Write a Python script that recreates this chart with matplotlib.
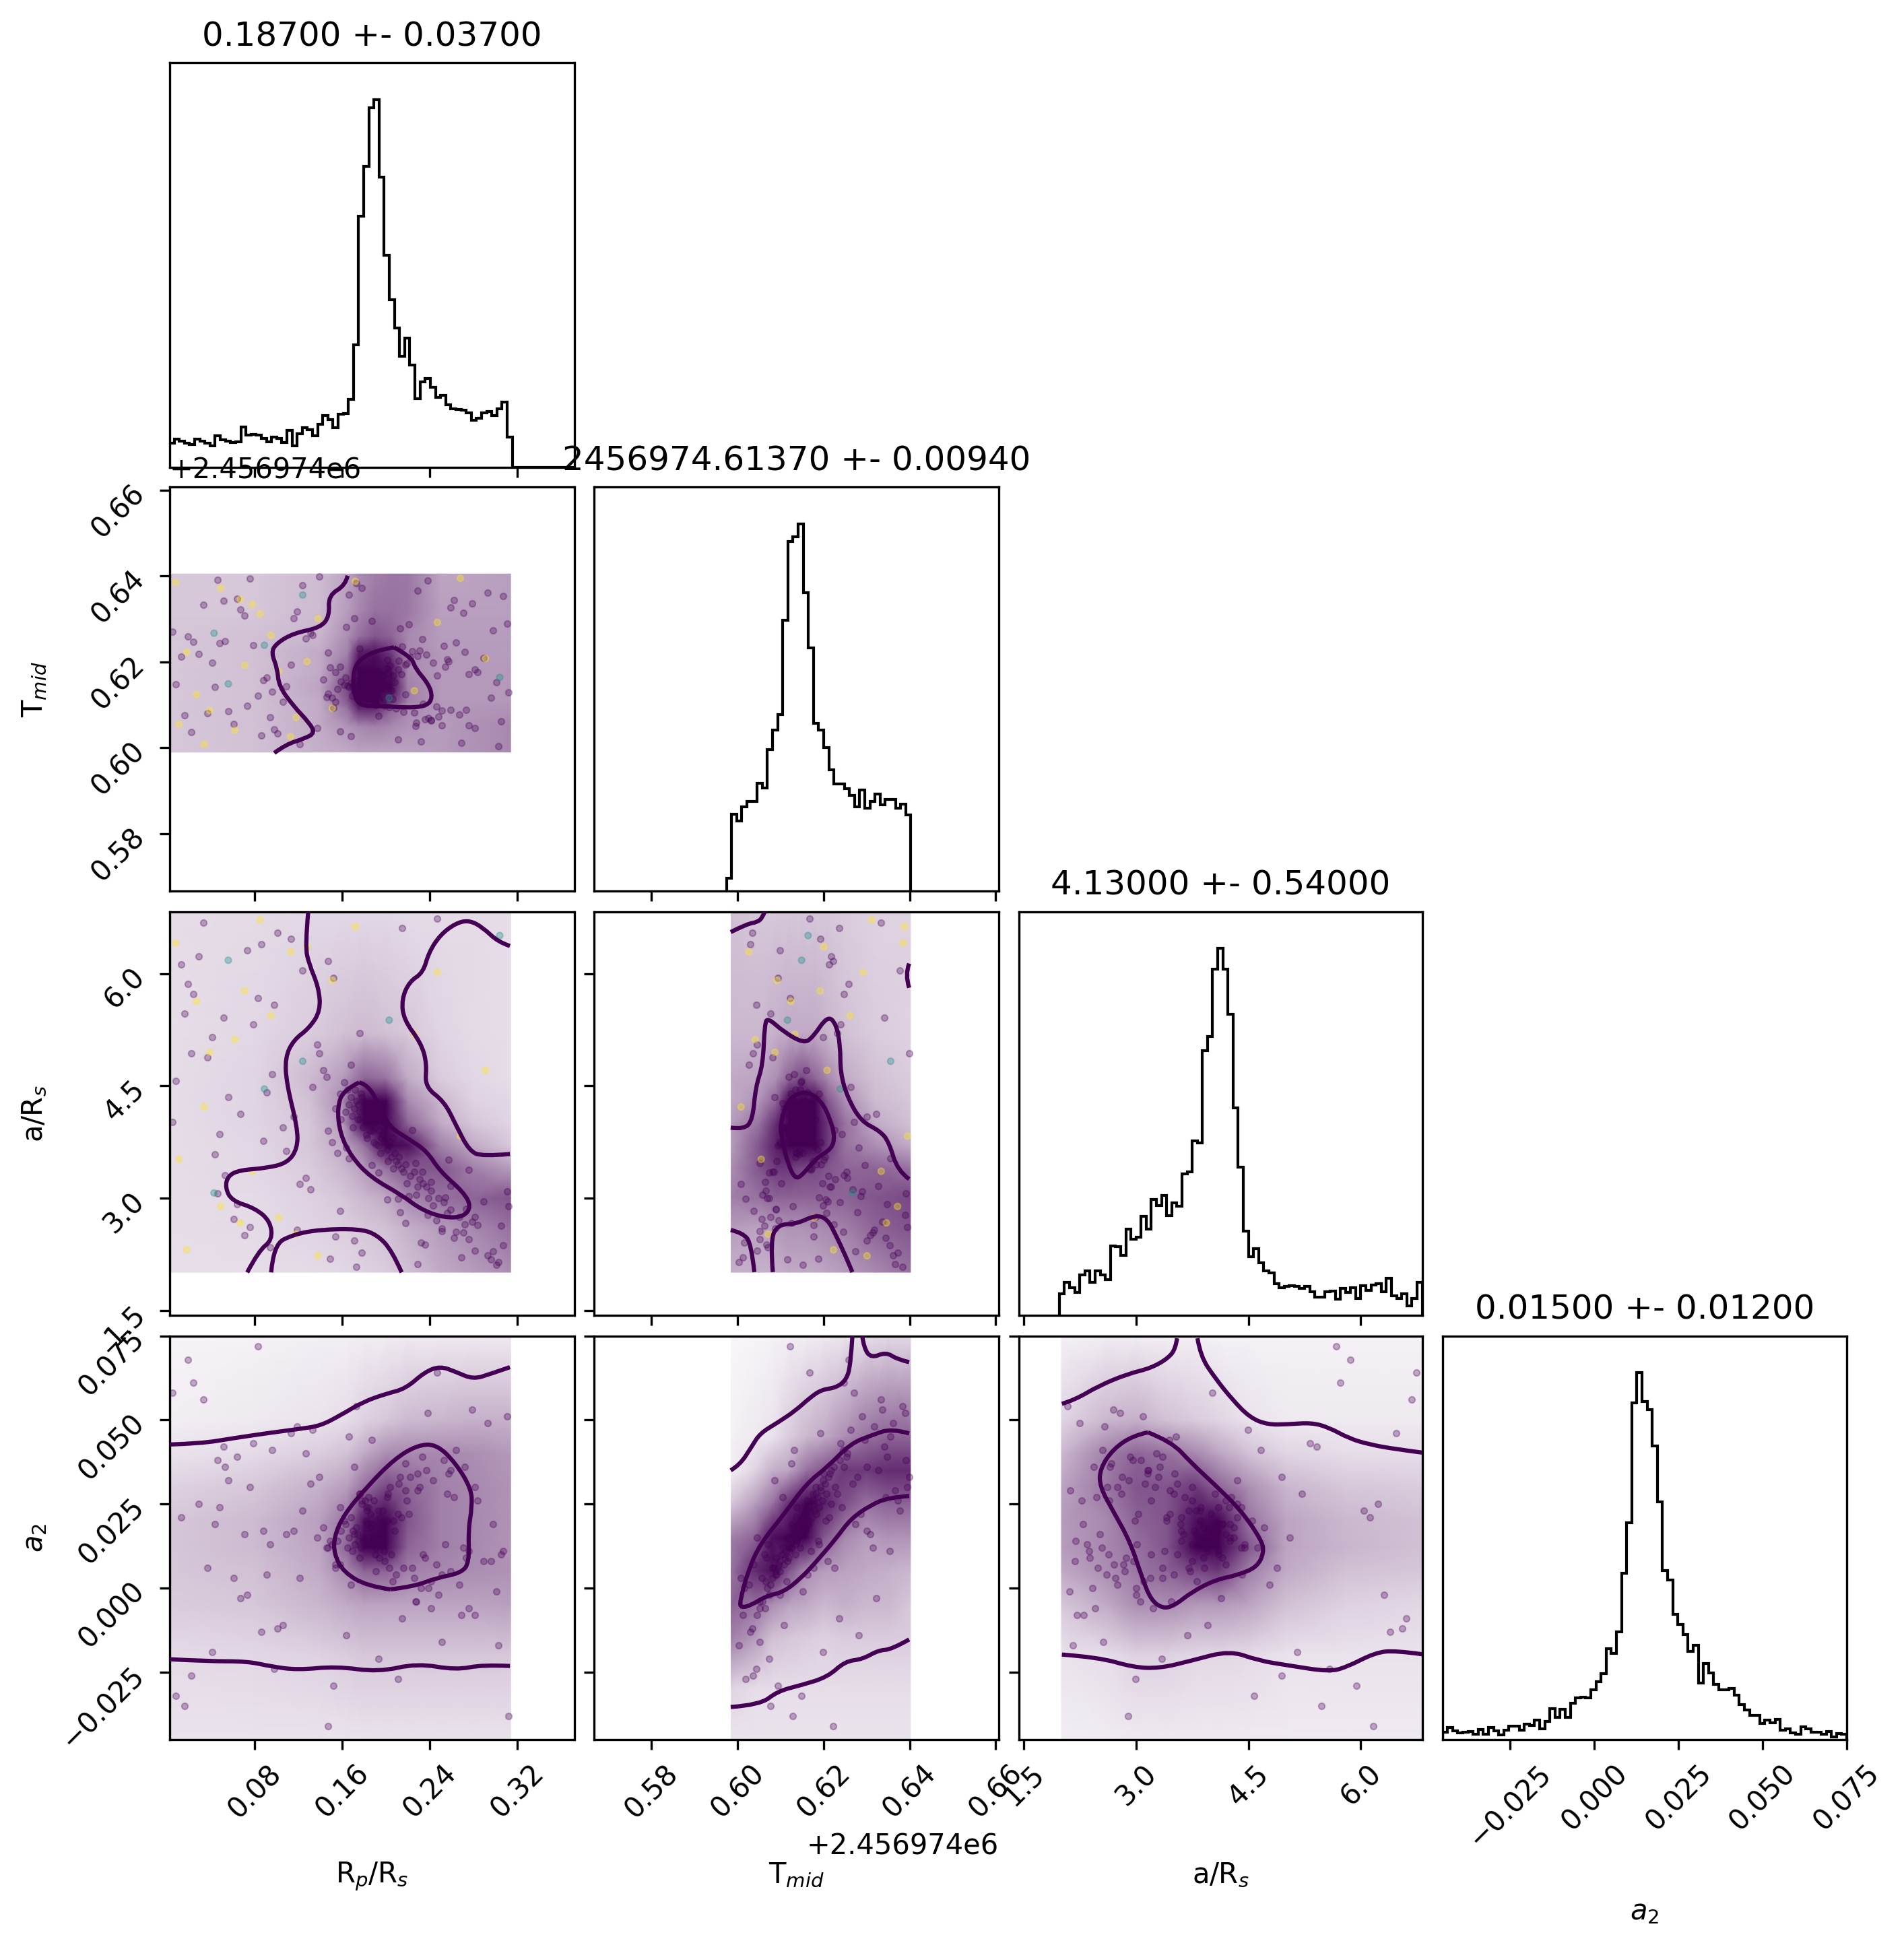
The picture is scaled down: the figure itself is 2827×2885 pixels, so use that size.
import numpy as np
import matplotlib
matplotlib.use('Agg')
import matplotlib.pyplot as plt
from matplotlib.colors import LinearSegmentedColormap
from matplotlib.patches import PathPatch
from matplotlib.path import Path
from matplotlib.ticker import ScalarFormatter

T_OFF = 2456974.0
PURPLE = '#440154'

titles = ['0.18700 +- 0.03700', '2456974.61370 +- 0.00940', '4.13000 +- 0.54000', '0.01500 +- 0.01200']
labels = [r'R$_p$/R$_s$', r'T$_{mid}$', r'a/R$_s$', r'$a_2$']

rp_ticks = [0.08, 0.16, 0.24, 0.32]
t_ticks = [0.58, 0.60, 0.62, 0.64, 0.66]
ars_ticks = [1.5, 3.0, 4.5, 6.0]
a2_ticks = [-0.025, 0.0, 0.025, 0.05, 0.075]

# histogram heights, left to right
rp_hist = [84, 96, 90, 84, 78, 96, 90, 84, 74, 109, 94, 90, 86, 88, 138, 110, 114, 110, 100, 88,
           104, 100, 86, 126, 74, 116, 137, 130, 109, 148, 179, 164, 136, 182, 184, 234, 420, 862, 1032, 1234,
           1262, 996, 727, 574, 477, 382, 444, 350, 236, 294, 304, 276, 240, 246, 214, 202, 198, 196, 186, 162,
           168, 188, 192, 178, 200, 224, 104, 0, 0, 0, 0, 0, 0, 0, 0, 0, 0, 0, 0, 0]
t_hist = [44, 262, 240, 288, 306, 306, 370, 354, 484, 552, 606, 928, 1200, 1216, 1260, 1024, 834, 576,
          552, 492, 416, 368, 366, 350, 328, 288, 346, 284, 308, 332, 296, 314, 314, 284, 298, 260]
ars_hist = [78, 122, 100, 84, 148, 162, 122, 162, 148, 130, 254, 250, 220, 314, 278, 286, 362, 316, 422, 400,
            438, 364, 410, 398, 516, 524, 636, 628, 966, 1016, 1262, 1338, 1262, 1098, 758, 540, 308, 214, 244, 192,
            162, 154, 116, 100, 106, 108, 106, 98, 106, 86, 68, 68, 86, 90, 60, 98, 84, 100, 62, 108,
            92, 110, 116, 86, 136, 72, 62, 80, 36, 62, 120]
a2_hist = [18, 29, 20, 16, 17, 19, 13, 24, 13, 29, 20, 11, 22, 32, 32, 22, 36, 33, 47, 25,
           43, 74, 53, 72, 52, 86, 99, 101, 99, 118, 138, 156, 216, 204, 256, 395, 515, 800, 871, 803,
           784, 697, 564, 402, 379, 298, 274, 250, 210, 223, 134, 180, 158, 131, 118, 118, 121, 106, 83, 70,
           58, 58, 38, 47, 40, 48, 22, 25, 16, 12, 31, 25, 18, 17, 13, 19, 7, 15, 12]

rp_edges = (0.0019, 0.3763)
t_edges = (0.5974, 0.6403)
ars_edges = (1.972, 6.82)
a2_edges = (-0.0451, 0.075)

# The clouds hold thousands of points that cannot be read one by one, so each
# is approximated by a hand-estimated darkness table plus a sample of points.
rp_grid = [0.002, 0.08, 0.14, 0.165, 0.175, 0.19, 0.205, 0.22, 0.25, 0.314]
rp_grid2 = [0.002, 0.08, 0.13, 0.16, 0.18, 0.2, 0.22, 0.25, 0.28, 0.314]
rp_grid3 = [0.002, 0.08, 0.14, 0.165, 0.18, 0.2, 0.22, 0.25, 0.28, 0.314]
t_grid = [0.599, 0.605, 0.609, 0.611, 0.614, 0.618, 0.622, 0.626, 0.632, 0.6405]
t_grid2 = [0.5985, 0.605, 0.609, 0.612, 0.615, 0.618, 0.621, 0.625, 0.632, 0.6402]
t_grid3 = [0.5985, 0.604, 0.608, 0.612, 0.616, 0.62, 0.625, 0.63, 0.635, 0.6402]
ars_grid = [2.01, 2.6, 3.0, 3.4, 3.7, 4.0, 4.3, 4.6, 5.2, 6.83]
ars_grid2 = [2.0, 2.6, 3.0, 3.4, 3.8, 4.1, 4.5, 5.0, 5.8, 6.83]
a2_grid = [-0.045, -0.02, -0.005, 0.005, 0.012, 0.02, 0.03, 0.04, 0.05, 0.075]
a2_grid2 = [-0.045, -0.03, -0.015, -0.005, 0.005, 0.015, 0.025, 0.035, 0.045, 0.075]

t_rp_shade = [[.2, .22, .28, .3, .32, .32, .32, .33, .35, .42],
              [.2, .22, .3, .38, .42, .45, .42, .38, .35, .42],
              [.2, .22, .3, .5, .75, .75, .55, .42, .36, .38],
              [.2, .22, .3, .6, 1, 1, .75, .45, .36, .36],
              [.2, .22, .32, .65, 1, 1, .9, .45, .36, .36],
              [.2, .22, .3, .55, 1, 1, .85, .42, .36, .36],
              [.2, .22, .3, .45, .8, .85, .7, .42, .36, .35],
              [.2, .22, .26, .4, .5, .6, .55, .42, .35, .35],
              [.2, .2, .24, .35, .42, .5, .5, .48, .34, .34],
              [.2, .2, .24, .32, .4, .45, .48, .48, .32, .34]]
ars_rp_shade = [[.12, .12, .13, .14, .16, .18, .22, .3, .35, .4],
                [.12, .13, .15, .17, .2, .22, .28, .35, .42, .5],
                [.12, .13, .16, .2, .25, .3, .42, .5, .55, .6],
                [.12, .14, .18, .25, .35, .5, .6, .6, .45, .35],
                [.12, .14, .2, .3, .5, .9, .85, .45, .3, .2],
                [.12, .15, .2, .35, .95, 1, .55, .3, .2, .15],
                [.12, .15, .22, .4, 1, .9, .42, .25, .16, .14],
                [.12, .15, .24, .35, .55, .5, .3, .18, .14, .12],
                [.12, .14, .18, .22, .24, .22, .2, .15, .13, .12],
                [.12, .13, .14, .14, .14, .14, .13, .13, .13, .12]]
ars_t_shade = [[.28, .28, .28, .3, .3, .3, .32, .35, .42, .5],
               [.35, .32, .35, .38, .38, .4, .42, .45, .55, .6],
               [.45, .5, .55, .55, .55, .55, .55, .55, .6, .65],
               [.4, .6, .7, .7, .65, .65, .6, .55, .55, .5],
               [.35, .6, .8, .95, .95, .9, .7, .5, .4, .3],
               [.35, .5, .75, 1, 1, 1, .7, .5, .3, .22],
               [.3, .38, .55, .95, 1, .95, .6, .4, .24, .2],
               [.3, .32, .4, .55, .65, .55, .42, .3, .22, .18],
               [.25, .25, .28, .3, .3, .3, .26, .22, .18, .16],
               [.22, .2, .2, .2, .2, .2, .2, .18, .16, .16]]
a2_rp_shade = [[.1, .1, .1, .1, .1, .1, .1, .1, .1, .1],
               [.13, .14, .16, .18, .2, .2, .2, .2, .2, .2],
               [.18, .2, .26, .3, .32, .32, .32, .32, .32, .34],
               [.2, .22, .3, .42, .55, .55, .45, .42, .4, .38],
               [.2, .24, .32, .55, .95, .9, .55, .45, .42, .38],
               [.2, .24, .34, .5, .85, 1, .6, .45, .42, .38],
               [.16, .2, .28, .35, .5, .65, .55, .45, .42, .38],
               [.1, .13, .18, .22, .3, .4, .42, .42, .4, .36],
               [.06, .08, .1, .12, .16, .2, .24, .26, .28, .28],
               [.04, .05, .06, .06, .07, .07, .08, .08, .08, .08]]
a2_t_shade = [[.1, .1, .1, .1, .1, .1, .1, .1, .1, .1],
              [.15, .12, .12, .12, .12, .12, .12, .12, .12, .12],
              [.45, .35, .22, .2, .18, .16, .18, .18, .18, .18],
              [.55, .5, .4, .32, .3, .25, .28, .25, .25, .2],
              [.5, .75, .85, .6, .4, .35, .32, .3, .28, .25],
              [.45, .55, .85, 1, .95, .6, .42, .35, .38, .38],
              [.2, .35, .5, .75, .9, .8, .62, .5, .55, .55],
              [.06, .15, .28, .32, .5, .6, .7, .7, .75, .75],
              [.05, .08, .1, .18, .25, .3, .4, .5, .55, .55],
              [.03, .04, .05, .06, .07, .08, .1, .12, .14, .14]]
a2_ars_shade = [[.06, .07, .08, .08, .08, .08, .08, .08, .08, .08],
                [.1, .12, .16, .16, .14, .14, .13, .1, .1, .1],
                [.2, .3, .4, .4, .36, .36, .32, .22, .16, .14],
                [.3, .4, .48, .55, .65, .7, .45, .3, .22, .2],
                [.35, .42, .5, .6, .95, 1, .6, .32, .26, .22],
                [.35, .42, .55, .6, .85, .95, .5, .32, .25, .22],
                [.32, .48, .6, .6, .7, .55, .4, .26, .2, .18],
                [.25, .45, .55, .5, .42, .32, .22, .15, .12, .12],
                [.15, .25, .28, .22, .18, .15, .1, .08, .08, .08],
                [.05, .07, .07, .06, .06, .05, .05, .05, .05, .05]]

# sample of points, same sample in every panel
rp_pts = [.013, .037, .052, .088, .101, .131, .146, .171, .193, .224,
          .238, .269, .284, .307, .024, .046, .073, .091, .119, .137,
          .164, .182, .211, .229, .257, .273, .298, .008, .033, .061,
          .079, .106, .124, .149, .168, .187, .218, .241, .262, .289,
          .303, .019, .044, .067, .094, .113, .139, .158, .176, .206,
          .221, .251, .276, .293, .312, .029, .056, .071, .098, .127,
          .143, .173, .191, .215, .232, .259, .281, .305, .005, .041,
          .064, .086, .109, .133, .152, .178, .201, .227, .247, .271,
          .296, .311, .016, .048, .076, .096, .121, .147, .166, .184,
          .213, .236, .254, .279, .301, .022, .053, .083, .116, .154,
          .171, .186, .194, .178, .203, .165, .212, .183, .197, .226,
          .158, .175, .191, .208, .237, .169, .181, .199, .218, .248,
          .162, .188, .176, .205, .231, .259, .173, .192, .214, .241,
          .154, .184, .196, .222, .267, .168, .179, .201, .234, .253,
          .147, .187, .193, .209, .243, .172, .182, .198, .228, .272,
          .159, .176, .189, .216, .256, .166, .185, .204, .239, .264,
          .151, .174, .195, .211, .246, .163, .177, .202, .233, .276,
          .156, .183, .19, .219, .251, .17, .18, .207, .229, .281]
t_pts = [.6213, .6081, .6342, .6157, .6034, .6268, .6119, .6301, .6074, .6225,
         .6389, .6012, .6176, .6354, .6247, .6391, .6098, .6163, .6317, .6046,
         .6282, .6137, .6019, .6366, .6201, .6089, .6274, .6148, .6333, .6056,
         .6239, .6108, .6378, .6187, .6027, .6296, .6125, .6064, .6344, .6209,
         .6003, .6259, .6142, .6322, .6071, .6193, .6399, .6038, .6231, .6114,
         .6287, .6052, .6171, .6361, .6129, .6218, .6086, .6308, .6043, .6255,
         .6159, .6383, .6099, .6236, .6015, .6327, .6182, .6062, .6271, .6198,
         .6348, .6029, .6144, .6263, .6093, .6372, .6205, .6051, .6168, .6314,
         .6116, .6289, .6076, .6243, .6395, .6131, .6008, .6222, .6356, .6104,
         .6279, .6067, .6189, .6337, .6152, .6036, .6248, .6122, .6301, .6177,
         .6132, .6158, .6111, .6176, .6094, .6145, .6203, .6127, .6169, .6082,
         .6189, .6138, .6105, .6152, .6217, .6121, .6163, .6098, .6194, .6073,
         .6147, .6116, .6181, .6134, .6227, .6089, .6156, .6124, .6172, .6065,
         .6108, .6166, .6139, .6211, .6077, .6151, .6129, .6186, .6102, .6238,
         .6126, .6143, .6178, .6091, .6199, .6135, .6161, .6113, .6058, .6224,
         .6154, .6119, .6171, .6084, .6206, .6141, .6128, .6192, .6069, .6245,
         .6117, .6149, .6136, .6183, .6096, .6164, .6123, .6175, .6253, .6052,
         .6137, .6159, .6107, .6197, .6087, .6144, .6131, .6168, .6214, .6046]
ars_pts = [6.12, 4.88, 5.41, 3.77, 6.55, 3.12, 4.62, 2.43, 3.34, 3.91,
           2.78, 2.21, 2.64, 2.37, 5.73, 3.06, 6.31, 4.41, 2.58, 5.05,
           3.68, 4.24, 2.99, 2.12, 3.51, 2.86, 2.29, 4.57, 6.68, 2.72,
           5.32, 3.95, 6.04, 2.19, 4.78, 3.44, 2.67, 3.22, 2.47, 2.96,
           2.15, 5.86, 3.59, 4.13, 2.34, 6.47, 4.94, 2.83, 5.21, 3.81,
           3.03, 2.56, 3.38, 2.24, 2.89, 6.23, 4.35, 2.51, 5.58, 3.27,
           4.71, 2.08, 3.72, 6.61, 2.41, 3.16, 2.75, 2.63, 4.02, 5.15,
           2.92, 6.39, 3.63, 4.49, 5.94, 2.27, 2.98, 3.47, 6.74, 2.54,
           2.18, 3.09, 5.47, 3.86, 2.61, 4.66, 3.19, 6.17, 3.53, 4.27,
           2.81, 2.38, 3.01, 2.69, 2.11, 4.94, 3.31, 5.67, 4.09, 2.49,
           4.2, 4.0, 3.9, 4.35, 3.7, 4.45, 3.55, 4.15, 3.85, 3.35,
           4.4, 4.25, 3.95, 3.6, 3.15, 4.1, 4.2, 3.75, 3.45, 3.0,
           4.55, 3.9, 4.05, 3.55, 3.25, 2.85, 4.3, 4.05, 3.4, 3.1,
           4.2, 4.1, 3.8, 3.3, 2.75, 4.35, 3.95, 3.65, 3.2, 2.95,
           3.9, 4.25, 3.7, 3.5, 2.9, 4.45, 3.85, 3.95, 3.05, 2.65,
           4.05, 4.15, 3.75, 3.35, 2.8, 4.25, 3.9, 3.75, 3.0, 2.55,
           3.75, 4.05, 3.6, 3.45, 2.7, 4.15, 4.4, 3.5, 3.35, 2.45,
           3.6, 3.8, 4.1, 3.2, 2.6, 3.95, 4.3, 3.4, 3.15, 2.3]
a2_pts = [.021, .006, .042, .017, -.012, .031, .012, .036, -.021, .006,
          .052, -.008, .026, .011, .061, .038, -.002, .004, .048, .015,
          -.014, .024, -.027, .029, .034, .009, .019, -.032, .056, .003,
          .043, -.011, .023, .014, .001, .044, .037, -.006, .027, .008,
          -.017, .068, .019, -.003, .013, .046, .033, .007, .028, .002,
          .022, -.016, .011, .049, -.038, .025, .032, .016, -.024, .040,
          .018, .054, .005, -.009, .000, .035, .030, .010, .058, -.019,
          .039, -.013, .016, .047, -.029, .026, .020, -.004, .064, .012,
          .008, .051, -.035, .024, .030, .041, .003, -.041, .045, .027,
          .033, .009, .013, .053, -.001, -.026, .036, .072, .017, .006,
          .016, .022, .009, .025, .006, .012, .031, .019, .023, .003,
          .024, .014, .012, .017, .035, .011, .026, .008, .029, -.002,
          .020, .015, .028, .010, .030, .005, .018, .013, .021, .002,
          .007, .024, .016, .033, .001, .021, .014, .027, .010, .038,
          .012, .019, .023, .004, .032, .013, .020, .011, -.004, .036,
          .017, .009, .026, .006, .028, .015, .018, .030, .000, .041,
          .013, .016, .021, .022, .007, .019, .012, .028, .039, -.006,
          .014, .023, .010, .026, .004, .017, .015, .020, .034, -.008]

# pale points only show in the upper panels
rp_pale = [.008, .027, .043, .062, .085, .102, .124, .151, .018, .034,
           .056, .078, .095, .118, .172, .203, .247, .291, .011, .049,
           .071, .089, .113, .138, .226, .268, .304, .039, .067, .128]
t_pale = [.6385, .6124, .6267, .6041, .6312, .6178, .6356, .6092, .6223, .6008,
          .6149, .6334, .6262, .6071, .6388, .6116, .6292, .6208, .6055, .6372,
          .6192, .6239, .6026, .6301, .6133, .6395, .6164, .6087, .6346, .6201]
ars_pale = [6.41, 5.63, 3.07, 5.12, 6.72, 2.74, 4.83, 5.91, 2.31, 4.22,
            6.18, 3.36, 5.44, 2.52, 6.63, 5.38, 6.02, 4.71, 3.52, 2.89,
            5.77, 4.46, 6.29, 2.23, 5.19, 3.83, 6.51, 4.95, 2.67, 6.36]
pale_level = [1, 1, .5, 1, 1, 1, .5, 1, 1, 1,
              .5, 1, 1, 1, 1, .5, 1, 1, 1, 1,
              1, .5, 1, 1, 1, 1, .5, 1, 1, 1]

# contour lines, one (x, y) pair per line
t_rp_lines = [
    ([.165, .1633, .1474, .1485, .1403, .1156, .0998, .0952, .1008, .1022, .1156, .1298, .1351, .1262, .1086, .098],
     [.6401, .6379, .6355, .6307, .628, .6267, .6243, .6222, .6185, .6144, .6097, .6059, .6035, .6022, .6008, .5988]),
    ([.2074, .2233, .2268, .2392, .2427, .2374, .218, .1968, .1756, .1703, .1703, .1792, .195, .2074],
     [.6234, .6212, .6185, .6148, .6117, .6097, .6093, .6098, .6097, .6131, .6185, .6212, .6229, .6234]),
]
ars_rp_lines = [
    ([.129, .1262, .1298, .1386, .1403, .1298, .1156, .1079, .1093, .1192, .1192, .1103, .0909, .0662, .0556, .0532, .0592, .0804, .0945, .0962, .0839, .0733],
     [6.824, 6.363, 6.129, 5.816, 5.504, 5.27, 5.113, 4.879, 4.527, 3.941, 3.668, 3.473, 3.402, 3.375, 3.297, 3.141, 2.965, 2.867, 2.691, 2.438, 2.301, 2.008]),
    ([.3133, .3027, .2886, .2762, .2639, .2497, .2392, .2339, .2215, .2144, .2162, .2321, .2374, .2356, .2533, .2639, .2762, .2886, .3133],
     [6.371, 6.422, 6.617, 6.715, 6.676, 6.52, 6.285, 6.012, 5.895, 5.66, 5.387, 5.074, 4.801, 4.488, 4.293, 3.98, 3.629, 3.559, 3.59]),
    ([.0952, .0973, .1156, .1403, .1756, .1915, .2056, .2144],
     [2.008, 2.379, 2.516, 2.582, 2.59, 2.516, 2.301, 2.008]),
    ([.1756, .1862, .2003, .2215, .2374, .2497, .2709, .278, .2709, .2533, .2321, .2144, .1862, .1686, .158, .1555, .1615, .1756],
     [4.547, 4.508, 3.98, 3.785, 3.629, 3.355, 3.082, 2.887, 2.75, 2.738, 2.848, 3.043, 3.277, 3.551, 3.863, 4.215, 4.449, 4.547]),
]
ars_t_lines = [
    ([.5984, .6022, .6046, .6058, .6063], [6.556, 6.666, 6.688, 6.751, 6.828]),
    ([.6399, .6389, .6399], [6.136, 5.989, 5.812]),
    ([.5984, .6015, .6035, .6042, .6059, .6063, .6071, .6107, .6154, .6175, .6209, .6229, .6239, .6239, .6256, .6287, .6331, .6352, .6372, .6399],
     [3.943, 3.918, 4.046, 4.488, 4.782, 5.334, 5.408, 5.224, 5.069, 5.15, 5.437, 5.334, 5.04, 4.672, 4.341, 4.028, 3.899, 3.752, 3.366, 3.255]),
    ([.61, .6103, .6117, .6134, .6151, .6182, .6219, .6226, .6216, .6195, .6154, .6107, .61],
     [3.936, 3.789, 3.458, 3.255, 3.311, 3.531, 3.66, 3.826, 4.046, 4.304, 4.451, 4.267, 3.936]),
    ([.5984, .6012, .6032, .6039], [2.575, 2.538, 2.391, 2.012]),
    ([.6082, .6076, .6093, .6137, .6182, .6209, .6229, .625, .6267],
     [2.012, 2.428, 2.648, 2.656, 2.777, 2.722, 2.501, 2.244, 2.012]),
]
a2_rp_lines = [
    ([.0027, .031, .0592, .0945, .1227, .1403, .158, .1792, .2003, .218, .2356, .2497, .2639, .2797, .2956, .3133],
     [.0427, .043, .0445, .0462, .0474, .0483, .0513, .0554, .0578, .0593, .0643, .066, .0643, .0621, .0637, .0657]),
    ([.0027, .038, .0733, .0945, .1192, .1545, .1933, .2286, .2639, .2886, .3133],
     [-.0212, -.0218, -.0218, -.0233, -.0244, -.0233, -.025, -.0224, -.0244, -.0228, -.0232]),
    ([.2039, .1827, .1615, .1527, .1527, .1615, .1827, .2074, .2286, .2462, .2639, .278, .2787, .2752, .2762, .2691, .2462, .225, .2039],
     [-.0004, .0006, .0047, .01, .0153, .0218, .0301, .0383, .0425, .0428, .0371, .0295, .0242, .0171, .0077, .0045, .003, .0004, -.0004]),
]
a2_t_lines = [
    ([.5984, .6005, .6032, .6052, .6093, .6134, .6168, .6195, .6229, .6253, .6263, .6267],
     [.035, .0366, .0419, .046, .0492, .0527, .0566, .059, .0596, .0619, .0666, .0749]),
    ([.629, .6294, .6311, .6345, .6372, .6399], [.0749, .0713, .0684, .0702, .068, .0672]),
    ([.6399, .6358, .6311, .6263, .6209, .6161, .6107, .6052, .6025, .6005, .6008, .6032, .6066, .6107, .6148, .6182, .6229, .6263, .6311, .6352, .6399],
     [.046, .0475, .0454, .043, .036, .0312, .0218, .013, .0053, -.0041, -.0059, -.0051, -.0024, -.0012, .003, .0077, .0147, .0206, .0248, .0269, .0274]),
    ([.5984, .6052, .6093, .6148, .6209, .625, .629, .6328, .6358, .6399],
     [-.0354, -.0348, -.0307, -.0289, -.0265, -.0218, -.0212, -.0185, -.0183, -.0153]),
]
a2_ars_lines = [
    ([2.006, 2.182, 2.494, 2.883, 3.195, 3.429, 3.526, 3.545], [.0548, .056, .0601, .0637, .0654, .0684, .0713, .0743]),
    ([3.818, 3.857, 4.052, 4.286, 4.519, 4.753, 5.026, 5.338, 5.571, 5.844, 6.117, 6.468, 6.818],
     [.0743, .069, .0625, .056, .0507, .0486, .0487, .0492, .0478, .0445, .0427, .0413, .0403]),
    ([3.156, 3.468, 3.74, 4.052, 4.403, 4.675, 4.706, 4.617, 4.364, 4.052, 3.74, 3.506, 3.351, 3.195, 3.078, 2.922, 2.688, 2.513, 2.513, 2.688, 2.961, 3.156],
     [.0463, .0436, .0371, .0307, .023, .0142, .0106, .0063, .0039, .0024, -.0012, -.0053, -.0061, -.0035, .003, .0136, .023, .0301, .0354, .0413, .0454, .0463]),
    ([2.006, 2.494, 2.961, 3.312, 3.74, 4.247, 4.636, 5.026, 5.571, 5.805, 6.195, 6.468, 6.818],
     [-.0198, -.0206, -.0236, -.0239, -.0216, -.0186, -.0216, -.023, -.0249, -.0236, -.0192, -.0186, -.0197]),
]


def draw_line(ax, x, y, x_off=0.0, y_off=0.0):
    # quadratic pieces through midpoints, so the contour comes out rounded
    pts = np.column_stack([np.asarray(x) + x_off, np.asarray(y) + y_off])
    if len(pts) < 3:
        verts, codes = pts, [Path.MOVETO, Path.LINETO]
    else:
        verts = [pts[0]]
        codes = [Path.MOVETO]
        for i in range(1, len(pts) - 1):
            end = pts[i + 1] if i == len(pts) - 2 else (pts[i] + pts[i + 1]) / 2
            verts += [pts[i], end]
            codes += [Path.CURVE3, Path.CURVE3]
    ax.add_patch(PathPatch(Path(verts, codes), fill=False, ec=PURPLE, lw=1.5, zorder=4))


def draw_panel(ax, grid_x, grid_y, shade, px, py, lines, x_off=0.0, y_off=0.0, pale=None):
    ax.pcolormesh(np.asarray(grid_x) + x_off, np.asarray(grid_y) + y_off, np.array(shade),
                  shading='gouraud', cmap=cloud_cmap, vmin=0, vmax=0.9, zorder=1)
    ax.scatter(np.asarray(px) + x_off, np.asarray(py) + y_off, s=5, c=PURPLE, alpha=0.3, lw=0.5, zorder=2)
    if pale is not None:
        ax.scatter(np.asarray(pale[0]) + x_off, np.asarray(pale[1]) + y_off, s=5, c=pale_level, cmap='viridis',
                   vmin=0, vmax=1, alpha=0.35, lw=0.5, zorder=2)
    for lx, ly in lines:
        draw_line(ax, lx, ly, x_off, y_off)


def draw_hist(ax, counts, edges, x_off=0.0):
    ax.stairs(counts, np.linspace(edges[0], edges[1], len(counts) + 1) + x_off, color='k', lw=1.0)
    ax.set_ylim(0, 1.1 * max(counts))
    ax.set_yticks([])


cloud_cmap = LinearSegmentedColormap.from_list('cloud', ['white', PURPLE])

W, H = 2828, 2885
fig = plt.figure(figsize=(W / 300, H / 300), dpi=300)
col_px = [(252, 852.5), (882.5, 1482.7), (1513, 2112.3), (2141.7, 2742)]
row_px = [(93, 694), (723.4, 1322.7), (1353.9, 1953.2), (1983.6, 2583)]
lims = [(0.0025, 0.372), (T_OFF + 0.5667, T_OFF + 0.6607), (1.433, 6.827), (-0.0451, 0.075)]
ticks = [rp_ticks, list(np.array(t_ticks) + T_OFF), ars_ticks, a2_ticks]

axes = {}
for r in range(4):
    for c in range(r + 1):
        l, rt = col_px[c]
        t, b = row_px[r]
        ax = fig.add_axes([l / W, 1 - b / H, (rt - l) / W, (b - t) / H])
        axes[r, c] = ax

draw_hist(axes[0, 0], rp_hist, rp_edges)
draw_hist(axes[1, 1], t_hist, t_edges, T_OFF)
draw_hist(axes[2, 2], ars_hist, ars_edges)
draw_hist(axes[3, 3], a2_hist, a2_edges)
for c in range(4):
    axes[c, c].set_title(titles[c], fontsize=12)

draw_panel(axes[1, 0], rp_grid, t_grid, t_rp_shade, rp_pts, t_pts, t_rp_lines, y_off=T_OFF, pale=(rp_pale, t_pale))
draw_panel(axes[2, 0], rp_grid2, ars_grid, ars_rp_shade, rp_pts, ars_pts, ars_rp_lines, pale=(rp_pale, ars_pale))
draw_panel(axes[2, 1], t_grid2, ars_grid, ars_t_shade, t_pts, ars_pts, ars_t_lines, x_off=T_OFF, pale=(t_pale, ars_pale))
draw_panel(axes[3, 0], rp_grid3, a2_grid, a2_rp_shade, rp_pts, a2_pts, a2_rp_lines)
draw_panel(axes[3, 1], t_grid3, a2_grid2, a2_t_shade, t_pts, a2_pts, a2_t_lines, x_off=T_OFF)
draw_panel(axes[3, 2], ars_grid2, a2_grid, a2_ars_shade, ars_pts, a2_pts, a2_ars_lines)

for (r, c), ax in axes.items():
    ax.set_xlim(lims[c])
    ax.set_xticks(ticks[c])
    if r != c:
        ax.set_ylim(lims[r])
        ax.set_yticks(ticks[r])
    if r == 3:
        fmt = ScalarFormatter(useOffset=T_OFF) if c == 1 else ScalarFormatter(useOffset=False)
        ax.xaxis.set_major_formatter(fmt)
        ax.tick_params(axis='x', labelrotation=45)
        ax.set_xlabel(labels[c])
        ax.xaxis.set_label_coords(0.5, -0.39 if c == 3 else -0.3)
    else:
        ax.xaxis.set_major_formatter(plt.NullFormatter())
    if c == 0 and r > 0:
        fmt = ScalarFormatter(useOffset=T_OFF) if r == 1 else ScalarFormatter(useOffset=False)
        ax.yaxis.set_major_formatter(fmt)
        ax.tick_params(axis='y', labelrotation=45)
        ax.set_ylabel(labels[r])
        ax.yaxis.set_label_coords(-0.3, 0.5)
    elif r != c:
        ax.yaxis.set_major_formatter(plt.NullFormatter())

fig.savefig('out.png', dpi=300)
